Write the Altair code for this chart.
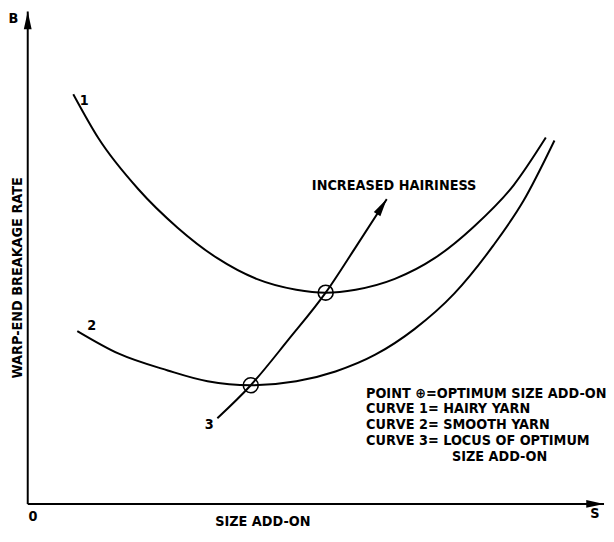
import altair as alt
import pandas as pd

# Curve 1: hairy yarn
c1_x = [0.79, 1.23, 1.92, 2.60, 3.29, 3.97, 4.66, 5.17, 5.69, 6.37, 7.06, 7.74, 8.43, 8.99]
c1_y = [8.32, 7.42, 6.39, 5.61, 4.99, 4.57, 4.35, 4.29, 4.35, 4.57, 4.99, 5.63, 6.47, 7.44]
# Curve 2: smooth yarn
c2_x = [0.86, 1.58, 2.43, 3.12, 3.87, 4.66, 5.34, 6.03, 6.71, 7.40, 8.08, 8.60, 9.14]
c2_y = [3.51, 3.05, 2.71, 2.49, 2.41, 2.49, 2.69, 3.03, 3.55, 4.27, 5.25, 6.15, 7.38]
# Curve 3: locus of optimum size add-on
c3_x = [3.29, 3.87, 4.52, 5.17, 5.70, 6.23]
c3_y = [1.74, 2.41, 3.33, 4.29, 5.23, 6.19]
# Optimum points
opt_x = [3.87, 5.17]
opt_y = [2.41, 4.29]

curve_labels = ["1", "2", "3"]
legend_lines = [
    "POINT \u2295=OPTIMUM SIZE ADD-ON",
    "CURVE 1= HAIRY YARN",
    "CURVE 2= SMOOTH YARN",
    "CURVE 3= LOCUS OF OPTIMUM",
    "SIZE ADD-ON",
]

FONT = "DejaVu Sans Condensed"
FS = 14.5
W, H = 584, 499
xs = alt.Scale(domain=[0, 10], nice=False, zero=False)
ys = alt.Scale(domain=[0, 10], nice=False, zero=False)

rows = []
for name, xx, yy in (("1", c1_x, c1_y), ("2", c2_x, c2_y), ("3", c3_x, c3_y)):
    for i, (a, b) in enumerate(zip(xx, yy)):
        rows.append({"curve": name, "i": i, "x": a, "y": b})
curves_df = pd.DataFrame(rows)

X = alt.X("x:Q", scale=xs, axis=None)
Y = alt.Y("y:Q", scale=ys, axis=None)

curves = alt.Chart(curves_df).mark_line(
    color="black", strokeWidth=2, interpolate="monotone"
).encode(x=X, y=Y, detail="curve:N", order="i:Q")

points = alt.Chart(pd.DataFrame({"x": opt_x, "y": opt_y})).mark_point(
    shape="circle", filled=False, size=230, color="black", strokeWidth=1.6, opacity=1
).encode(x=X, y=Y)

axes_df = pd.DataFrame({"x": [0, 0], "y": [0, 0], "x2": [10, 0], "y2": [0, 10]})
axes = alt.Chart(axes_df).mark_rule(color="black", strokeWidth=2).encode(
    x=X, y=Y, x2="x2:Q", y2="y2:Q"
)

arrow_path = "M0,0L0.22,1L-0.22,1Z"
arrows_df = pd.DataFrame({
    "x": [0, 10, c3_x[-1]],
    "y": [10, 0, c3_y[-1]],
    "ang": [0, 90, 33],
})
arrows = alt.Chart(arrows_df).mark_point(
    shape=arrow_path, filled=True, color="black", size=1300, opacity=1, strokeWidth=0
).encode(x=X, y=Y, angle=alt.Angle("ang:Q", scale=None))

center_df = pd.DataFrame({
    "x": [0.98, 1.11, 3.15, -0.25, 0.09, 9.84, 4.08],
    "y": [8.18, 3.61, 1.60, 9.84, -0.26, -0.20, -0.36],
    "t": curve_labels + ["B", "0", "S", "SIZE ADD-ON"],
})
center_text = alt.Chart(center_df).mark_text(
    font=FONT, fontWeight="bold", fontSize=FS, align="center", baseline="middle", color="black"
).encode(x=X, y=Y, text="t:N")

left_df = pd.DataFrame({
    "x": [4.93, 5.87, 5.87, 5.87, 5.87, 7.36],
    "y": [6.45, 2.24, 1.92, 1.60, 1.28, 0.96],
    "t": ["INCREASED HAIRINESS"] + legend_lines,
})
left_text = alt.Chart(left_df).mark_text(
    font=FONT, fontWeight="bold", fontSize=FS, align="left", baseline="middle", color="black"
).encode(x=X, y=Y, text="t:N")

ylab = alt.Chart(pd.DataFrame({"x": [-0.17], "y": [4.59], "t": ["WARP-END BREAKAGE RATE"]})).mark_text(
    font=FONT, fontWeight="bold", fontSize=FS, align="center", baseline="middle", angle=270, color="black"
).encode(x=X, y=Y, text="t:N")

chart = alt.layer(axes, curves, points, arrows, center_text, left_text, ylab).properties(
    width=W, height=H,
    autosize=alt.AutoSizeParams(type="none"),
    padding={"left": 20, "top": 0, "right": 2, "bottom": 30},
).configure_view(stroke="transparent")

chart.save("out.html", embed_options={"renderer": "svg", "actions": False})
